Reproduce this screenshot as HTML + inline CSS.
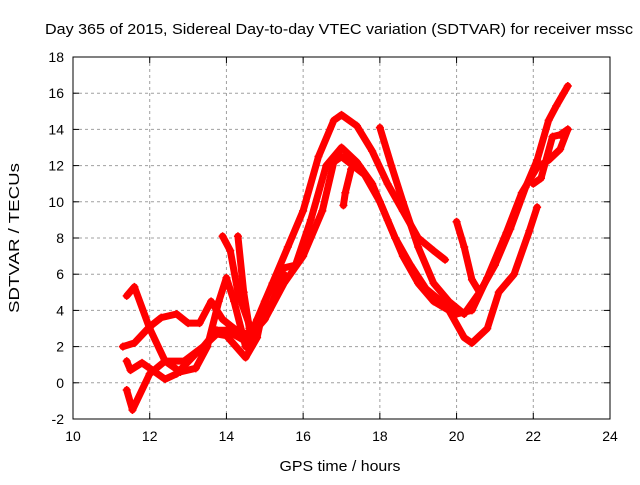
<!DOCTYPE html>
<html><head><meta charset="utf-8"><style>
body{margin:0;background:#fff}
svg text{font-family:"Liberation Sans",sans-serif;font-size:14px;fill:#000}
</style></head><body>
<svg id="chart" width="640" height="480" xmlns="http://www.w3.org/2000/svg">
<text x="339" y="34" text-anchor="middle" textLength="588" lengthAdjust="spacingAndGlyphs" style="font-size:15px">Day 365 of 2015, Sidereal Day-to-day VTEC variation (SDTVAR) for receiver mssc</text>
<text transform="translate(19,238) rotate(-90)" text-anchor="middle" textLength="150" lengthAdjust="spacingAndGlyphs" style="font-size:15px">SDTVAR / TECUs</text>
<text x="340" y="471" text-anchor="middle" textLength="121" lengthAdjust="spacingAndGlyphs" style="font-size:15px">GPS time / hours</text>
<g id="grid"></g><g id="ticks"></g><g id="series"></g>
<rect x="73" y="57" width="537" height="362" fill="none" stroke="#000" stroke-width="1"/>
</svg>
<script>
const xTicks=[10,12,14,16,18,20,22,24];
const yTicks=[-2,0,2,4,6,8,10,12,14,16,18];
const trackA_x=[11.4,11.6,12.0,12.4,12.8,13.2,13.5,13.8,14.0,14.2,14.5,14.8,15.2,15.6,16.0,16.4,16.8,17.0,17.4,17.8,18.2,18.6,19.0,19.4,19.7];
const trackA_y=[4.8,5.3,3.0,1.2,0.6,0.8,2.0,4.5,5.8,4.5,2.0,3.5,5.5,7.5,9.5,12.5,14.5,14.8,14.2,12.8,11.0,9.5,8.0,7.3,6.8];
const trackB_x=[11.3,11.6,12.0,12.3,12.7,13.0,13.3,13.6,13.9,14.2,14.5,14.8,15.2,15.5];
const trackB_y=[2.0,2.2,3.1,3.6,3.8,3.3,3.3,4.5,3.5,3.0,2.7,3.0,4.5,6.0];
const trackC_x=[11.4,11.5,11.8,12.0,12.4,12.7,13.2,13.75,14.0,14.5,14.8,15.0,15.4,15.8,16.2,16.6,17.0,17.4,17.8,18.2,18.6,19.0,19.4,19.8,20.2,20.4,20.8,21.1,21.5,21.9,22.1];
const trackC_y=[1.2,0.7,1.1,0.8,0.2,0.5,1.6,2.7,2.6,1.4,2.5,4.5,6.3,6.5,9.0,12.0,13.0,12.2,11.0,9.0,7.0,5.5,4.5,4.0,2.5,2.2,3.0,5.0,6.0,8.4,9.7];
const trackD_x=[11.4,11.55,12.0,12.4,12.9,13.4,13.75,14.0,14.5,15.0,15.5,16.0,16.5,16.8,17.0,17.3,17.6,18.0,18.4,18.8,19.2,19.6,20.0,20.4,20.8,21.3,21.7,22.1,22.4,22.7,22.9];
const trackD_y=[-0.4,-1.5,0.5,1.2,1.2,2.0,2.9,2.9,2.3,3.5,5.5,7.0,9.5,12.2,12.5,12.0,11.5,10.0,8.0,6.5,5.2,4.5,3.8,4.0,5.8,8.3,10.5,11.9,12.3,12.9,14.0];
const trackE_x=[18.0,18.3,18.6,19.0,19.4,19.8,20.2,20.6,21.0,21.4,21.8,22.1,22.4,22.6,22.9];
const trackE_y=[14.1,12.0,10.0,7.5,5.5,4.5,3.8,5.0,6.5,8.5,10.8,12.3,14.5,15.3,16.4];
const spike1_x=[13.9,14.1,14.3,14.6];
const spike1_y=[8.1,7.3,5.0,3.2];
const spike2_x=[14.3,14.45,14.6];
const spike2_y=[8.1,5.0,3.0];
const spike3_x=[17.25,17.1,17.05];
const spike3_y=[11.8,10.5,9.8];
const spike4_x=[20.0,20.2,20.4,20.6];
const spike4_y=[8.9,7.5,5.7,5.0];
const spike5_x=[22.0,22.2,22.5,22.7,22.9];
const spike5_y=[11.0,11.3,13.6,13.7,14.0];
const allX=[trackA_x,trackB_x,trackC_x,trackD_x,trackE_x,spike1_x,spike2_x,spike3_x,spike4_x,spike5_x];
const allY=[trackA_y,trackB_y,trackC_y,trackD_y,trackE_y,spike1_y,spike2_y,spike3_y,spike4_y,spike5_y];
const names=['track-a','track-b','track-c','track-d','track-e','spike-1','spike-2','spike-3','spike-4','spike-5'];
const L=73,R=610,T=57,B=419;
const sx=v=>L+(v-10)/14*(R-L);
const sy=v=>B-(v+2)/20*(B-T);
const NS='http://www.w3.org/2000/svg';
const grid=document.getElementById('grid'),ticks=document.getElementById('ticks'),ser=document.getElementById('series');
function mk(tag,attrs,parent){const e=document.createElementNS(NS,tag);for(const k in attrs)e.setAttribute(k,attrs[k]);parent.appendChild(e);return e;}
xTicks.forEach(v=>{const x=sx(v);
 if(v>10&&v<24){const g=mk('line',{x1:x,x2:x,y1:T,y2:B,stroke:'#a0a0a0','stroke-dasharray':'3,3'},grid);
 
 }
 mk('line',{x1:x,x2:x,y1:B,y2:B-6,stroke:'#000'},ticks);mk('line',{x1:x,x2:x,y1:T,y2:T+6,stroke:'#000'},ticks);
 const t=mk('text',{x:x,y:B+22,'text-anchor':'middle'},ticks);t.textContent=v;
 
 });
yTicks.forEach(v=>{const y=sy(v);
 if(v>-2&&v<18){const g=mk('line',{x1:L,x2:R,y1:y,y2:y,stroke:'#a0a0a0','stroke-dasharray':'3,3'},grid);
 
 }
 mk('line',{x1:L,x2:L+6,y1:y,y2:y,stroke:'#000'},ticks);mk('line',{x1:R,x2:R-6,y1:y,y2:y,stroke:'#000'},ticks);
 const t=mk('text',{x:L-9,y:y+5,'text-anchor':'end'},ticks);t.textContent=v;
 
 });
allX.forEach((xs,i)=>{const ys=allY[i];
 const g=mk('g',{},ser);
 
 
 const pts=xs.map((x,j)=>sx(x).toFixed(1)+','+sy(ys[j]).toFixed(1)).join(' ');
 mk('polyline',{points:pts,fill:'none',stroke:'#ff0000','stroke-width':7,'stroke-linejoin':'round','stroke-linecap':'round'},g);
 xs.forEach((x,j)=>{const px=sx(x),py=sy(ys[j]);
  mk('path',{d:`M${px-4},${py}H${px+4}M${px},${py-4}V${py+4}`,stroke:'#ff0000','stroke-width':1.5},g);});
});
</script>
</body></html>
